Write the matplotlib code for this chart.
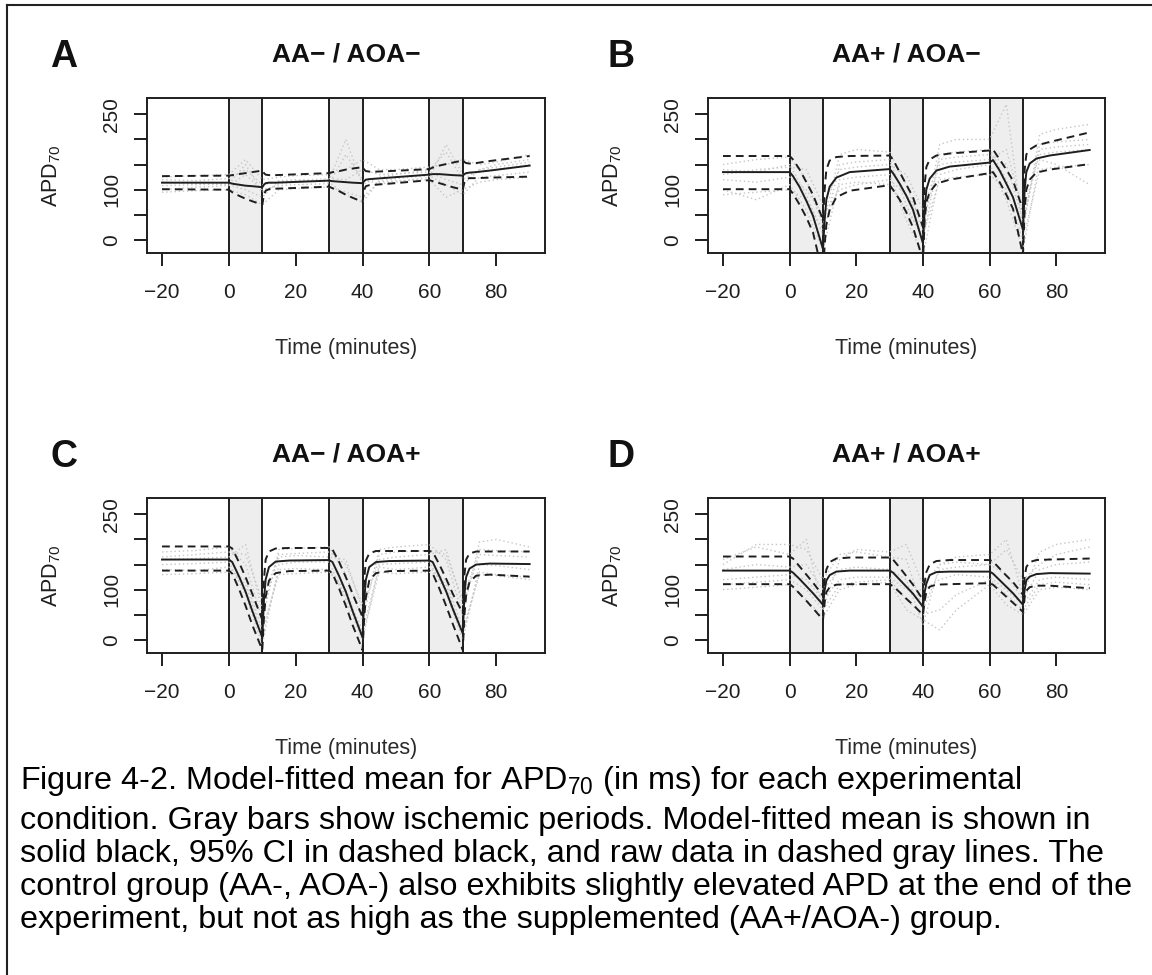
import matplotlib
matplotlib.use("Agg")
import matplotlib.pyplot as plt
from matplotlib.lines import Line2D

plt.rcParams["font.family"] = ["Liberation Sans", "DejaVu Sans"]
plt.rcParams["mathtext.fontset"] = "custom"
plt.rcParams["mathtext.rm"] = "Liberation Sans"

W, H, DPI = 1152, 975, 100
INK = "#1e1e1e"
SHADE = "#eeeeee"
RAW_COLOR = "#c6c6c6"

# DATA
ISCHEMIA = [(0, 10), (30, 40), (60, 70)]
XTICKS = [-20, 0, 20, 40, 60, 80]
YTICKS = [0, 50, 100, 150, 200, 250]
YTICK_LABELS = ["0", "", "100", "", "", "250"]
LETTERS = ["A", "B", "C", "D"]
TITLES = ["AA\u2212 / AOA\u2212", "AA+ / AOA\u2212", "AA\u2212 / AOA+", "AA+ / AOA+"]

# model time grid (minutes)
TIME = [-20, 0, 1, 3, 5, 7, 10, 10.5, 11, 12, 14, 18,
        30, 31, 33, 35, 37, 40, 40.5, 41, 42, 44, 48,
        60, 61, 63, 65, 67, 70, 70.5, 71, 72, 74, 78, 90]

A_MEAN = [114, 114, 112, 110, 108, 107, 105, 110, 113, 114, 114, 115,
          118, 117, 116, 115, 114, 113, 117, 120, 121, 122, 124,
          130, 131, 131, 130, 129, 128, 131, 133, 134, 135, 138, 148]
A_HI = [127, 128, 129, 131, 133, 135, 138, 133, 130, 129, 129, 130,
        133, 135, 137, 140, 142, 145, 140, 137, 136, 136, 137,
        141, 144, 148, 151, 154, 158, 155, 153, 152, 153, 157, 167]
A_LO = [101, 100, 95, 88, 82, 77, 70, 90, 98, 101, 102, 103,
        106, 103, 97, 90, 84, 76, 100, 107, 109, 110, 112,
        119, 117, 113, 109, 105, 100, 115, 121, 123, 123, 124, 126]

B_MEAN = [135, 135, 127, 105, 78, 48, -18, 40, 80, 106, 124, 135,
          141, 133, 112, 88, 60, -7, 60, 100, 122, 138, 146,
          154, 159, 138, 112, 85, 20, 100, 135, 152, 162, 168, 179]
B_HI = [167, 167, 160, 140, 115, 90, 40, 100, 140, 158, 165, 167,
        168, 160, 135, 110, 85, 25, 110, 145, 160, 168, 172,
        178, 180, 160, 140, 118, 60, 140, 170, 180, 188, 195, 214]
B_LO = [101, 101, 92, 70, 45, 15, -70, -10, 30, 60, 85, 98,
        109, 100, 80, 55, 25, -40, 40, 75, 95, 112, 120,
        133, 135, 115, 90, 62, -30, 60, 100, 120, 134, 140, 151]

C_MEAN = [160, 160, 155, 127, 96, 58, 5, 80, 120, 145, 156, 158,
          159, 155, 127, 96, 58, 5, 80, 120, 145, 155, 157,
          158, 155, 127, 97, 62, 13, 90, 125, 142, 150, 152, 151]
C_HI = [186, 186, 182, 155, 125, 92, 40, 120, 160, 176, 182, 183,
        183, 180, 155, 125, 92, 46, 120, 158, 172, 177, 177,
        177, 175, 150, 122, 92, 53, 130, 160, 172, 176, 176, 176]
C_LO = [138, 138, 132, 102, 68, 30, -20, 45, 85, 118, 133, 137,
        138, 132, 102, 68, 30, -20, 45, 85, 118, 133, 137,
        138, 132, 102, 68, 32, -20, 50, 90, 115, 128, 130, 126]

D_MEAN = [138, 138, 134, 121, 107, 93, 70, 99, 118, 129, 136, 138,
          138, 134, 120, 106, 92, 66, 95, 112, 129, 135, 136,
          136, 132, 119, 106, 93, 70, 100, 119, 126, 131, 133, 132]
D_HI = [166, 166, 162, 146, 130, 114, 88, 120, 140, 155, 162, 164,
        164, 160, 144, 127, 110, 80, 115, 135, 150, 157, 159,
        159, 156, 142, 128, 115, 90, 125, 145, 155, 159, 160, 162]
D_LO = [111, 111, 106, 92, 78, 63, 40, 75, 95, 105, 110, 111,
        111, 107, 95, 82, 70, 50, 78, 95, 106, 110, 111,
        113, 110, 98, 86, 74, 56, 85, 98, 105, 108, 108, 103]

# raw recordings (dotted gray)
RAW_TIME = [-20, -10, 0, 5, 10, 15, 20, 30, 35, 40, 45, 50, 60, 65, 70, 75, 80, 90]

A_RAW = [
    [108, 110, 112, 150, 95, 112, 115, 120, 200, 110, 125, 130, 140, 175, 120, 140, 150, 160],
    [95, 98, 100, 90, 70, 100, 102, 105, 95, 85, 115, 118, 120, 85, 100, 115, 120, 125],
    [125, 128, 130, 160, 120, 125, 128, 130, 140, 160, 140, 140, 145, 150, 160, 150, 155, 170],
    [115, 112, 110, 100, 85, 118, 120, 115, 90, 75, 118, 122, 128, 110, 90, 125, 128, 135],
    [100, 105, 108, 130, 100, 108, 110, 112, 170, 120, 112, 115, 125, 190, 130, 135, 140, 150],
    [120, 118, 122, 140, 110, 115, 118, 122, 120, 140, 130, 132, 135, 120, 110, 140, 145, 155],
]
B_RAW = [
    [150, 160, 165, 120, 30, 170, 180, 175, 110, 20, 190, 200, 200, 270, 20, 210, 220, 230],
    [100, 80, 110, 60, -20, 120, 125, 130, 40, -30, 130, 140, 150, 80, -20, 160, 150, 110],
    [140, 135, 150, 90, 10, 150, 155, 160, 70, 0, 170, 175, 180, 120, 30, 190, 195, 200],
    [120, 115, 125, 100, 50, 100, 110, 120, 90, 40, 150, 155, 160, 180, 60, 170, 175, 180],
    [130, 140, 145, 140, 70, 140, 145, 150, 130, 60, 160, 165, 170, 150, 40, 180, 185, 190],
    [90, 95, 100, 80, 20, 110, 115, 110, 60, 10, 120, 125, 130, 100, 0, 140, 145, 150],
]
C_RAW = [
    [175, 178, 185, 150, 40, 180, 182, 185, 130, 40, 180, 185, 190, 160, 50, 195, 200, 185],
    [140, 138, 145, 110, 10, 140, 142, 140, 90, 20, 145, 140, 145, 110, 10, 135, 130, 125],
    [160, 162, 165, 190, 60, 165, 168, 165, 160, 60, 160, 165, 170, 180, 70, 170, 168, 165],
    [150, 152, 155, 90, -10, 150, 155, 155, 80, 0, 150, 152, 155, 95, 0, 150, 148, 140],
    [165, 170, 175, 170, 80, 170, 172, 175, 150, 70, 170, 175, 178, 170, 80, 180, 178, 175],
    [130, 132, 135, 120, 20, 130, 132, 135, 100, 10, 135, 132, 135, 120, 20, 130, 128, 120],
]
D_RAW = [
    [160, 185, 170, 200, 60, 160, 180, 175, 190, 110, 150, 165, 170, 200, 90, 175, 190, 200],
    [100, 105, 110, 80, 45, 100, 110, 115, 60, 40, 20, 60, 110, 70, 50, 100, 105, 100],
    [140, 150, 145, 150, 100, 140, 145, 140, 120, 30, 150, 155, 150, 130, 80, 140, 150, 155],
    [120, 125, 130, 120, 80, 120, 125, 125, 100, 100, 120, 130, 125, 100, 70, 120, 125, 120],
    [150, 190, 190, 180, 120, 170, 175, 165, 160, 60, 140, 145, 150, 180, 120, 150, 170, 185],
    [110, 115, 120, 100, 60, 110, 115, 120, 80, 50, 60, 90, 120, 90, 60, 110, 115, 110],
]

CAPTION = [
    "Figure 4-2. Model-fitted mean for APD$_\\mathregular{70}$ (in ms) for each experimental",
    "condition. Gray bars show ischemic periods. Model-fitted mean is shown in",
    "solid black, 95% CI in dashed black, and raw data in dashed gray lines. The",
    "control group (AA-, AOA-) also exhibits slightly elevated APD at the end of the",
    "experiment, but not as high as the supplemented (AA+/AOA-) group.",
]
CAPTION_BASELINES = [789, 829, 862, 895, 928]

# plot box of each panel in pixels: left, top, right, bottom
BOXES = [(147, 97.7, 545, 253.3), (708, 97.7, 1105, 253.3),
         (147, 497.7, 545, 653.3), (708, 497.7, 1105, 653.3)]
LETTER_OFFSETS = [97, 101, 97, 101]


def fx(px):
    return px / W


def fy(py):
    return 1 - py / H


def draw_panel(fig, box, mean, lo, hi, raws, letter, title, letter_off):
    l, t, r, b = box
    ax = fig.add_axes([fx(l), fy(b), fx(r - l), (b - t) / H])
    for a, c in ISCHEMIA:
        ax.axvspan(a, c, color=SHADE, lw=0, zorder=0)
        ax.axvline(a, color=INK, lw=1.4, zorder=1)
        ax.axvline(c, color=INK, lw=1.4, zorder=1)
    for raw in raws:
        ax.plot(RAW_TIME, raw, color=RAW_COLOR, lw=1.0, ls=(0, (1, 2)), zorder=2)
    ax.plot(TIME, lo, color=INK, lw=1.4, ls=(0, (4, 2.6)), zorder=3)
    ax.plot(TIME, hi, color=INK, lw=1.4, ls=(0, (4, 2.6)), zorder=3)
    ax.plot(TIME, mean, color=INK, lw=1.4, zorder=4)

    ax.set_xlim(-24.5, 94.6)
    ax.set_ylim(-26.5, 283)
    ax.set_xticks(XTICKS)
    ax.set_xticklabels([f"\u2212{abs(v)}" if v < 0 else str(v) for v in XTICKS])
    ax.set_yticks(YTICKS)
    ax.set_yticklabels(YTICK_LABELS, rotation=90, va="center")
    ax.tick_params(direction="out", length=9.5, width=1.4, colors=INK,
                   labelsize=15, labelcolor=INK)
    ax.tick_params(axis="x", pad=12)
    ax.tick_params(axis="y", pad=9)
    for s in ax.spines.values():
        s.set_linewidth(1.4)
        s.set_color(INK)

    ax.text(fx((l + r) / 2), fy(t - 36), title, transform=fig.transFigure,
            ha="center", va="baseline", fontsize=19, fontweight="bold", color="#111")
    ax.text(fx(l - letter_off), fy(t - 31), letter, transform=fig.transFigure,
            ha="left", va="baseline", fontsize=27, fontweight="bold", color="#111")
    ax.text(fx(l - 95), fy((t + b) / 2), "APD$_\\mathregular{70}$", transform=fig.transFigure,
            ha="center", va="center", rotation=90, fontsize=15.5, color=INK)
    ax.text(fx((l + r) / 2), fy(b + 95), "Time (minutes)", transform=fig.transFigure,
            ha="center", va="center", fontsize=15.5, color="#2a2a2a")
    return ax


fig = plt.figure(figsize=(W / DPI, H / DPI), dpi=DPI)

panels = [(A_MEAN, A_LO, A_HI, A_RAW), (B_MEAN, B_LO, B_HI, B_RAW),
          (C_MEAN, C_LO, C_HI, C_RAW), (D_MEAN, D_LO, D_HI, D_RAW)]
for i, (mean, lo, hi, raws) in enumerate(panels):
    draw_panel(fig, BOXES[i], mean, lo, hi, raws, LETTERS[i], TITLES[i], LETTER_OFFSETS[i])

# frame around the figure (top and left edges)
fig.add_artist(Line2D([fx(7), fx(7)], [0, fy(5)], color="#222", lw=1.5))
fig.add_artist(Line2D([fx(7), 1], [fy(5), fy(5)], color="#222", lw=1.5))

for line, y in zip(CAPTION, CAPTION_BASELINES):
    fig.text(fx(20), fy(y), line, ha="left", va="baseline", fontsize=23.3, color="black")

fig.savefig("out.png", dpi=DPI)
